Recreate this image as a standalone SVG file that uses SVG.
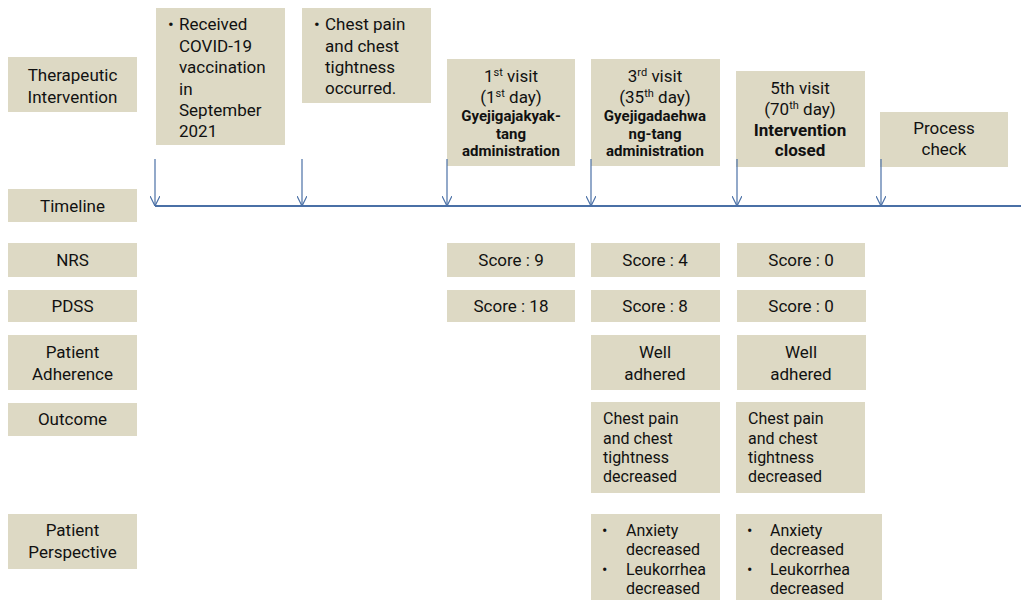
<svg xmlns="http://www.w3.org/2000/svg" width="1021" height="600" viewBox="0 0 1021 600">
<defs>
<style>
.box{fill:#ddd9c4}
text{font-family:Roboto,"Noto Sans","Liberation Sans",sans-serif;font-size:17px;fill:#111}
.c{text-anchor:middle}
.b{font-weight:bold;font-size:15px}
.bb{font-weight:bold;font-size:17px}
.s{font-size:16px}
.sup{font-size:11px}
.ln{stroke:#4a70a6;stroke-width:1.2;fill:none}
</style>
<marker id="ah" viewBox="0 0 10 10" refX="10" refY="5" markerWidth="10" markerHeight="10" markerUnits="userSpaceOnUse" orient="auto">
<path d="M0,0 L10,5 L0,10" fill="none" stroke="#4a70a6" stroke-width="1.2"/>
</marker>
</defs>
<rect width="1021" height="600" fill="#fff"/>

<g id="label-therapeutic"><rect class="box" x="8" y="57" width="129" height="55"/><text class="c" x="72.5" y="81">Therapeutic</text><text class="c" x="72.5" y="103">Intervention</text></g>
<g id="label-timeline"><rect class="box" x="8" y="189" width="129" height="33"/><text class="c" x="72.5" y="212">Timeline</text></g>
<g id="label-nrs"><rect class="box" x="8" y="243" width="129" height="34"/><text class="c" x="72.5" y="266">NRS</text></g>
<g id="label-pdss"><rect class="box" x="8" y="290" width="129" height="32"/><text class="c" x="72.5" y="312">PDSS</text></g>
<g id="label-adherence"><rect class="box" x="8" y="335" width="129" height="55"/><text class="c" x="72.5" y="358">Patient</text><text class="c" x="72.5" y="380">Adherence</text></g>
<g id="label-outcome"><rect class="box" x="8" y="403" width="129" height="33"/><text class="c" x="72.5" y="425">Outcome</text></g>
<g id="label-perspective"><rect class="box" x="8" y="514" width="129" height="55"/><text class="c" x="72.5" y="536">Patient</text><text class="c" x="72.5" y="558">Perspective</text></g>

<g id="ev-vaccination"><rect class="box" x="156" y="8" width="129" height="137"/>
<text x="168" y="30">•</text>
<text x="179" y="30">Received</text><text x="179" y="52">COVID-19</text><text x="179" y="73">vaccination</text><text x="179" y="95">in</text><text x="179" y="116">September</text><text x="179" y="137">2021</text></g>
<g id="ev-chestpain"><rect class="box" x="302" y="8" width="129" height="95"/>
<text x="314" y="30">•</text>
<text x="325" y="30">Chest pain</text><text x="325" y="52">and chest</text><text x="325" y="73">tightness</text><text x="325" y="94">occurred.</text></g>
<g id="ev-visit1"><rect class="box" x="447" y="59" width="128" height="107"/>
<text class="c" x="511" y="82">1<tspan class="sup" dy="-6">st</tspan><tspan dy="6"> visit</tspan></text>
<text class="c" x="511" y="103">(1<tspan class="sup" dy="-6">st</tspan><tspan dy="6"> day)</tspan></text>
<text class="c b" x="511" y="121">Gyejigajakyak-</text><text class="c b" x="511" y="138.5">tang</text><text class="c b" x="511" y="156">administration</text></g>
<g id="ev-visit3"><rect class="box" x="591" y="59" width="129" height="107"/>
<text class="c" x="655" y="82">3<tspan class="sup" dy="-6">rd</tspan><tspan dy="6"> visit</tspan></text>
<text class="c" x="655" y="103">(35<tspan class="sup" dy="-6">th</tspan><tspan dy="6"> day)</tspan></text>
<text class="c b" x="655" y="121">Gyejigadaehwa</text><text class="c b" x="655" y="138.5">ng-tang</text><text class="c b" x="655" y="156">administration</text></g>
<g id="ev-visit5"><rect class="box" x="736" y="71" width="129" height="96"/>
<text class="c" x="800" y="94">5th visit</text>
<text class="c" x="800" y="115">(70<tspan class="sup" dy="-6">th</tspan><tspan dy="6"> day)</tspan></text>
<text class="c bb" x="800" y="136">Intervention</text><text class="c bb" x="800" y="156">closed</text></g>
<g id="ev-process"><rect class="box" x="880" y="112" width="128" height="55"/>
<text class="c" x="944" y="134">Process</text><text class="c" x="944" y="155">check</text></g>

<g id="nrs-1"><rect class="box" x="447" y="243" width="128" height="34"/><text class="c" x="511" y="266">Score : 9</text></g>
<g id="nrs-3"><rect class="box" x="591" y="243" width="129" height="34"/><text class="c" x="655" y="266">Score : 4</text></g>
<g id="nrs-5"><rect class="box" x="737" y="243" width="128" height="34"/><text class="c" x="801" y="266">Score : 0</text></g>
<g id="pdss-1"><rect class="box" x="447" y="290" width="128" height="32"/><text class="c" x="511" y="312">Score : 18</text></g>
<g id="pdss-3"><rect class="box" x="591" y="290" width="129" height="32"/><text class="c" x="655" y="312">Score : 8</text></g>
<g id="pdss-5"><rect class="box" x="737" y="290" width="129" height="32"/><text class="c" x="801" y="312">Score : 0</text></g>
<g id="adh-3"><rect class="box" x="591" y="335" width="129" height="55"/><text class="c" x="655" y="358">Well</text><text class="c" x="655" y="380">adhered</text></g>
<g id="adh-5"><rect class="box" x="737" y="335" width="129" height="55"/><text class="c" x="801" y="358">Well</text><text class="c" x="801" y="380">adhered</text></g>
<g id="out-3"><rect class="box" x="591" y="402" width="129" height="91"/>
<text class="s" x="603" y="424">Chest pain</text><text class="s" x="603" y="444">and chest</text><text class="s" x="603" y="463">tightness</text><text class="s" x="603" y="482">decreased</text></g>
<g id="out-5"><rect class="box" x="736" y="402" width="129" height="91"/>
<text class="s" x="748" y="424">Chest pain</text><text class="s" x="748" y="444">and chest</text><text class="s" x="748" y="463">tightness</text><text class="s" x="748" y="482">decreased</text></g>
<g id="persp-3"><rect class="box" x="591" y="514" width="129" height="86"/>
<text class="s" x="602" y="536">•</text><text class="s" x="626" y="536">Anxiety</text><text class="s" x="626" y="555">decreased</text>
<text class="s" x="602" y="575">•</text><text class="s" x="626" y="575">Leukorrhea</text><text class="s" x="626" y="594">decreased</text></g>
<g id="persp-5"><rect class="box" x="736" y="514" width="146" height="86"/>
<text class="s" x="747" y="536">•</text><text class="s" x="770" y="536">Anxiety</text><text class="s" x="770" y="555">decreased</text>
<text class="s" x="747" y="575">•</text><text class="s" x="770" y="575">Leukorrhea</text><text class="s" x="770" y="594">decreased</text></g>

<g id="connectors">
<line x1="155" y1="206" x2="1021" y2="206" stroke="#4a70a6" stroke-width="2"/>
<line class="ln" x1="155" y1="159" x2="155" y2="206" marker-end="url(#ah)"/>
<line class="ln" x1="302" y1="159" x2="302" y2="206" marker-end="url(#ah)"/>
<line class="ln" x1="447" y1="159" x2="447" y2="206" marker-end="url(#ah)"/>
<line class="ln" x1="591" y1="159" x2="591" y2="206" marker-end="url(#ah)"/>
<line class="ln" x1="737" y1="159" x2="737" y2="206" marker-end="url(#ah)"/>
<line class="ln" x1="881" y1="159" x2="881" y2="206" marker-end="url(#ah)"/>
</g>
</svg>
